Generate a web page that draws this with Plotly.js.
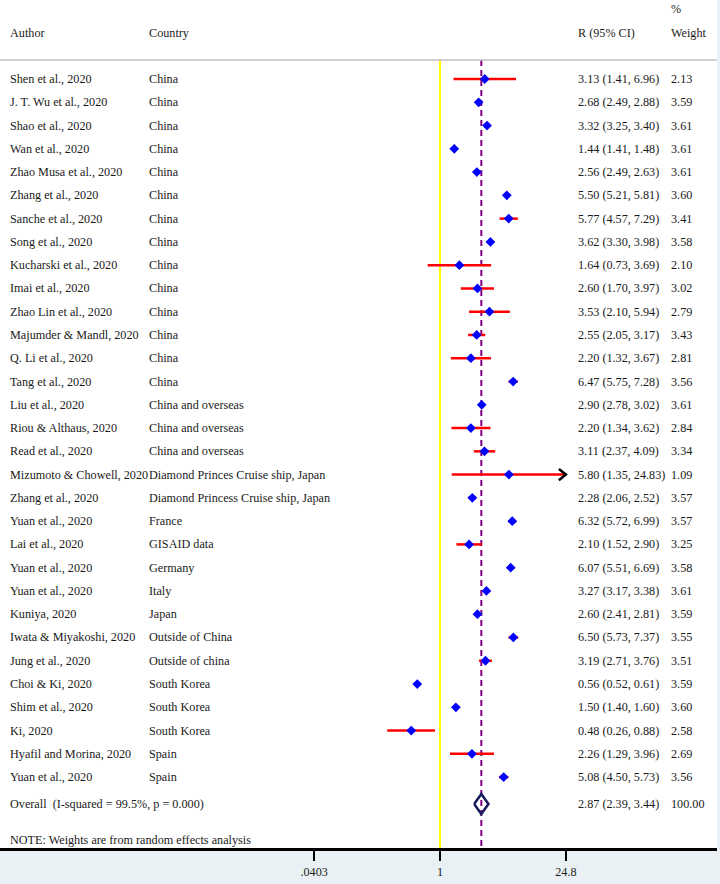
<!DOCTYPE html>
<html>
<head>
<meta charset="utf-8">
<script src="https://cdn.plot.ly/plotly-3.0.1.min.js"></script>
<style>html,body{margin:0;padding:0;background:#eaf1f4;}</style>
</head>
<body>
<div id="chart" style="width:720px;height:884px;"></div>
<script>
const authors = ["Shen et al., 2020","J. T. Wu et al., 2020","Shao et al., 2020","Wan et al., 2020","Zhao Musa et al., 2020","Zhang et al., 2020","Sanche et al., 2020","Song et al., 2020","Kucharski et al., 2020","Imai et al., 2020","Zhao Lin et al., 2020","Majumder & Mandl, 2020","Q. Li et al., 2020","Tang et al., 2020","Liu et al., 2020","Riou & Althaus, 2020","Read et al., 2020","Mizumoto & Chowell, 2020","Zhang et al., 2020","Yuan et al., 2020","Lai et al., 2020","Yuan et al., 2020","Yuan et al., 2020","Kuniya, 2020","Iwata & Miyakoshi, 2020","Jung et al., 2020","Choi & Ki, 2020","Shim et al., 2020","Ki, 2020","Hyafil and Morina, 2020","Yuan et al., 2020"];
const countries = ["China","China","China","China","China","China","China","China","China","China","China","China","China","China","China and overseas","China and overseas","China and overseas","Diamond Princes Cruise ship, Japan","Diamond Princess Cruise ship, Japan","France","GISAID data","Germany","Italy","Japan","Outside of China","Outside of china","South Korea","South Korea","South Korea","Spain","Spain"];
const estimates = [3.13,2.68,3.32,1.44,2.56,5.50,5.77,3.62,1.64,2.60,3.53,2.55,2.20,6.47,2.90,2.20,3.11,5.80,2.28,6.32,2.10,6.07,3.27,2.60,6.50,3.19,0.56,1.50,0.48,2.26,5.08];
const lower = [1.41,2.49,3.25,1.41,2.49,5.21,4.57,3.30,0.73,1.70,2.10,2.05,1.32,5.75,2.78,1.34,2.37,1.35,2.06,5.72,1.52,5.51,3.17,2.41,5.73,2.71,0.52,1.40,0.26,1.29,4.50];
const upper = [6.96,2.88,3.40,1.48,2.63,5.81,7.29,3.98,3.69,3.97,5.94,3.17,3.67,7.28,3.02,3.62,4.09,24.83,2.52,6.99,2.90,6.69,3.38,2.81,7.37,3.76,0.61,1.60,0.88,3.96,5.73];
const weights = ["2.13","3.59","3.61","3.61","3.61","3.60","3.41","3.58","2.10","3.02","2.79","3.43","2.81","3.56","3.61","2.84","3.34","1.09","3.57","3.57","3.25","3.58","3.61","3.59","3.55","3.51","3.59","3.60","2.58","2.69","3.56"];
const overallLabel = "Overall  (I-squared = 99.5%, p = 0.000)";
const overallEst = 2.87, overallLo = 2.39, overallHi = 3.44, overallWeight = "100.00";
const tickValues = [0.0403, 1, 24.8];
const tickLabels = [".0403", "1", "24.8"];
const noteText = "NOTE: Weights are from random effects analysis";

// layout geometry (pixels)
const W = 720, H = 884, plotW = 717, plotH = 849;
const pxPerDecade = 90.25, xZeroPx = 440;
const rowPx = 23.27, firstRowPx = 79;
const yOfPx = p => (p - firstRowPx) / rowPx;
const xRange = [-xZeroPx / pxPerDecade, (plotW - xZeroPx) / pxPerDecade];
const yTop = yOfPx(0), yBot = yOfPx(plotH);
const sepY = yOfPx(60);
const overallY = yOfPx(804);
const clipMax = tickValues[tickValues.length - 1];

const fnt = {family: "Liberation Serif, Times New Roman, serif", size: 12.2, color: "#1a1a1a"};
const rows = estimates.map((_, i) => i);

// CI segments
const ciX = [], ciY = [];
const arrowX = [], arrowY = [];
estimates.forEach((e, i) => {
  const hi = Math.min(upper[i], clipMax);
  ciX.push(lower[i], hi, null);
  ciY.push(i, i, null);
  if (upper[i] > clipMax) {
    const back = clipMax / Math.pow(10, 7 / pxPerDecade);
    arrowX.push(back, clipMax, back, null);
    arrowY.push(i - 0.24, i, i + 0.24, null);
  }
});

const dh = 10 / rowPx;
const traces = [
  {x: [1, 1], y: [sepY, yBot], mode: "lines", line: {color: "#ffff00", width: 2}, hoverinfo: "skip"},
  {x: [overallEst, overallEst], y: [sepY, yBot], mode: "lines", line: {color: "#800080", width: 2, dash: "6px,4px"}, hoverinfo: "skip"},
  {x: ciX, y: ciY, mode: "lines", line: {color: "#ff0000", width: 2.5}, connectgaps: false, hoverinfo: "skip"},
  {x: arrowX, y: arrowY, mode: "lines", line: {color: "#000000", width: 2.5}, hoverinfo: "skip"},
  {x: estimates, y: rows, mode: "markers", marker: {symbol: "diamond", size: 7.5, color: "#0000ff", line: {width: 0}}, hoverinfo: "x"},
  {x: [overallLo, overallEst, overallHi, overallEst, overallLo], y: [overallY, overallY - dh, overallY, overallY + dh, overallY], mode: "lines", line: {color: "#1a1a5e", width: 2.5}, hoverinfo: "skip"}
];

const ann = [];
const px = p => p / plotW;
function addText(t, xp, y) {
  ann.push({text: t, xref: "paper", yref: "y", x: px(xp), y: y, xanchor: "left", yanchor: "middle", showarrow: false, font: fnt, borderpad: 0});
}
const colAuthor = 8.5, colCountry = 147.5, colCI = 576.5, colW = 669.5;
addText("Author", colAuthor, yOfPx(32.7));
addText("Country", colCountry, yOfPx(32.7));
addText("R (95% CI)", colCI, yOfPx(32.7));
addText("%", colW, yOfPx(9.3));
addText("Weight", colW, yOfPx(32.7));
const f2 = v => v.toFixed(2);
rows.forEach(i => {
  addText(authors[i], colAuthor, i);
  addText(countries[i], colCountry, i);
  addText(f2(estimates[i]) + " (" + f2(lower[i]) + ", " + f2(upper[i]) + ")", colCI, i);
  addText(weights[i], colW, i);
});
addText(overallLabel, colAuthor, overallY);
addText(f2(overallEst) + " (" + f2(overallLo) + ", " + f2(overallHi) + ")", colCI, overallY);
addText(overallWeight, colW, overallY);
addText(noteText, colAuthor, yOfPx(840));

const layout = {
  width: W, height: H,
  margin: {l: 0, r: W - plotW, t: 0, b: H - plotH, pad: 0},
  paper_bgcolor: "#eaf1f4",
  plot_bgcolor: "#ffffff",
  showlegend: false,
  font: fnt,
  xaxis: {type: "log", range: xRange, tickvals: tickValues, ticktext: tickLabels,
    ticks: "outside", ticklen: 10, tickwidth: 2, tickcolor: "#000",
    showline: true, linecolor: "#000", linewidth: 2, showgrid: false, zeroline: false,
    tickfont: fnt, fixedrange: true},
  yaxis: {range: [yBot, yTop], showticklabels: false, showgrid: false, zeroline: false, showline: false, ticks: "", fixedrange: true},
  shapes: [
    {type: "line", xref: "paper", yref: "y", x0: 0, x1: 1, y0: sepY, y1: sepY, line: {color: "#c0c0c0", width: 1.5}},
    {type: "line", xref: "paper", yref: "paper", x0: 0, x1: 1, y0: 0, y1: 0, layer: "above", line: {color: "#000000", width: 2}}
  ],
  annotations: ann
};
Plotly.newPlot("chart", traces, layout, {displayModeBar: false, staticPlot: true});
</script>
</body>
</html>
